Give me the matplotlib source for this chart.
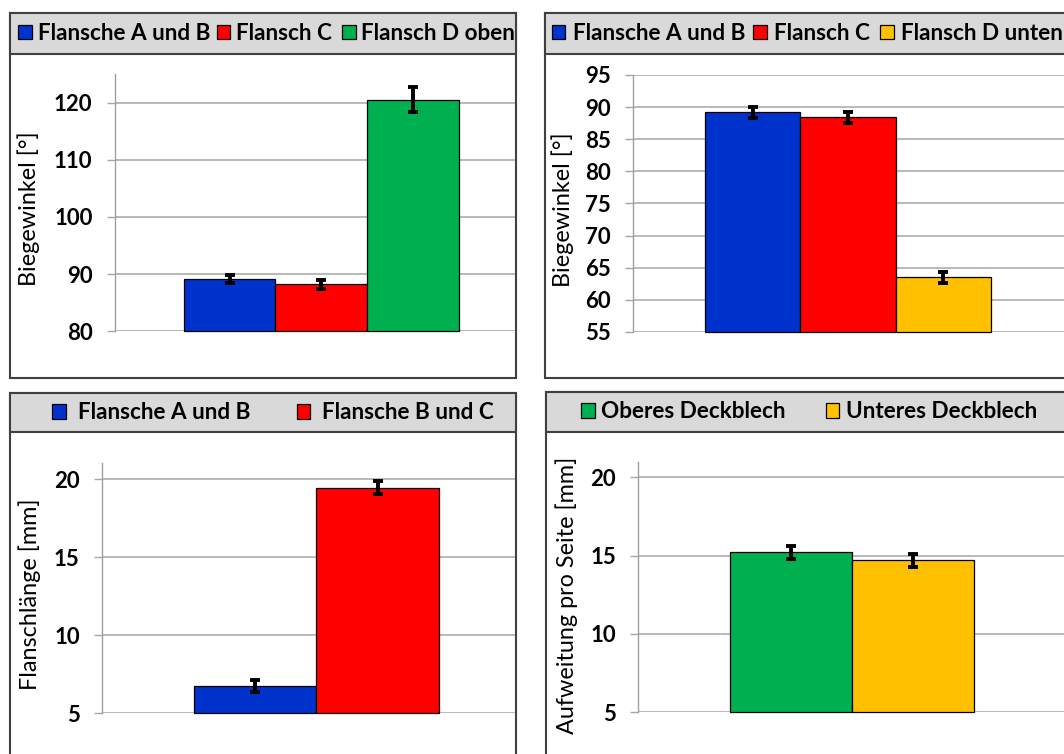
import matplotlib.pyplot as plt
from matplotlib.patches import Rectangle

plt.rcParams['font.family'] = ['Lato', 'DejaVu Sans']

# Daten der vier Diagramme
labels_oben = ["Flansche A und B", "Flansch C", "Flansch D oben"]
winkel_oben = [89.1, 88.2, 120.5]
fehler_oben = [0.7, 0.85, 2.2]

labels_unten = ["Flansche A und B", "Flansch C", "Flansch D unten"]
winkel_unten = [89.2, 88.4, 63.5]
fehler_unten = [0.85, 0.9, 0.9]

labels_laenge = ["Flansche A und B", "Flansche B und C"]
laenge = [6.75, 19.45]
fehler_laenge = [0.4, 0.42]

labels_aufw = ["Oberes Deckblech", "Unteres Deckblech"]
aufweitung = [15.2, 14.7]
fehler_aufw = [0.4, 0.4]

BLAU, ROT, GRUEN, GELB = "#0033cc", "#ff0000", "#00b050", "#ffc000"

W, H = 1064, 754
fig = plt.figure(figsize=(W / 100, H / 100), dpi=100)


def fig_rect(x0, y0, x1, y1):
    # Pixel (von oben) -> Figurkoordinaten
    return [x0 / W, 1 - y1 / H, (x1 - x0) / W, (y1 - y0) / H]


def rahmen(x0, y0, x1, y1, y_kopf):
    l, b, w, h = fig_rect(x0, y0, x1, y1)
    fig.add_artist(Rectangle((l, b), w, h, transform=fig.transFigure,
                             facecolor="white", edgecolor="#404040", lw=1.5, zorder=-2))
    l, b, w, h = fig_rect(x0, y0, x1, y_kopf)
    fig.add_artist(Rectangle((l, b), w, h, transform=fig.transFigure,
                             facecolor="#d9d9d9", edgecolor="#404040", lw=1.5, zorder=-1))


def diagramm(werte, fehler, farben, ylim, yticks, spine_x, oben, unten, rechts_voll, rechts_clip):
    ax = fig.add_axes(fig_rect(spine_x, oben, rechts_clip, unten))
    ax.set_facecolor("none")
    n = len(werte)
    breite = 1 / (n + 1.5)
    pos = [(i - (n - 1) / 2) * breite for i in range(n)]
    hoehen = [v - ylim[0] for v in werte]
    balken = ax.bar(pos, hoehen, breite, bottom=ylim[0], color=farben,
                    edgecolor="black", linewidth=0.9, clip_on=False, zorder=2)
    ax.errorbar(pos, werte, yerr=fehler, fmt="none", ecolor="black",
                elinewidth=2.8, capsize=3.8, capthick=2.8, zorder=3)
    ax.set_ylim(*ylim)
    ax.set_yticks(yticks)
    ax.set_xlim(-0.5, -0.5 + (rechts_clip - spine_x) / (rechts_voll - spine_x))
    ax.set_xticks([])
    ax.set_axisbelow(True)
    ax.grid(axis="y", color="#a6a6a6", linewidth=1.1)
    for s in ["top", "right", "bottom"]:
        ax.spines[s].set_visible(False)
    ax.spines["left"].set_color("#a0a0a0")
    ax.spines["left"].set_linewidth(1.0)
    ax.tick_params(axis="y", length=5.5, width=1.0, color="#a6a6a6", pad=10.5,
                   labelsize=16, labelcolor="black")
    for t in ax.get_yticklabels():
        t.set_fontweight("bold")
    return list(balken)


def kopf_legende(handles, texte, xs, y, textpad):
    for h, t, x in zip(handles, texte, xs):
        fig.legend([h], [t], loc="center left", bbox_to_anchor=(x / W, 1 - y / H),
                   frameon=False, borderpad=0, borderaxespad=0,
                   handlelength=0.6, handleheight=0.6, handletextpad=textpad,
                   prop=dict(weight="bold", size=16.2))


# Rahmen mit grauem Legendenkopf
rahmen(10, 12.7, 516, 378, 54)
rahmen(544.5, 12.7, 1075, 378, 54)
rahmen(10, 393.3, 516, 765, 432.3)
rahmen(545.7, 392.3, 1075, 765, 431.7)

# Oben links: Biegewinkel oben
h1 = diagramm(winkel_oben, fehler_oben, [BLAU, ROT, GRUEN], (80, 125),
              [80, 90, 100, 110, 120], 114.7, 74.1, 331.3, 528, 515)
kopf_legende(h1, labels_oben, [18.3, 216.7, 342], 33.3, 0.26)
fig.text(28.7 / W, 1 - 209 / H, "Biegewinkel [°]", rotation=90,
         ha="center", va="center", fontsize=16.8)

# Oben rechts: Biegewinkel unten
h2 = diagramm(winkel_unten, fehler_unten, [BLAU, ROT, GELB], (55, 95),
              [55, 60, 65, 70, 75, 80, 85, 90, 95], 633.3, 75, 332, 1062.7, 1064)
kopf_legende(h2, labels_unten, [551.7, 753.3, 880], 33.3, 0.34)
fig.text(563 / W, 1 - 209.5 / H, "Biegewinkel [°]", rotation=90,
         ha="center", va="center", fontsize=16.8)

# Unten links: Flanschlaenge
h3 = diagramm(laenge, fehler_laenge, [BLAU, ROT], (5, 21),
              [5, 10, 15, 20], 102, 463.4, 713.3, 530.7, 515)
kopf_legende(h3, labels_laenge, [52.3, 296.7], 412.8, 0.53)
fig.text(29.5 / W, 1 - 594 / H, "Flanschlänge [mm]", rotation=90,
         ha="center", va="center", fontsize=16.8)

# Unten rechts: Aufweitung
h4 = diagramm(aufweitung, fehler_aufw, [GRUEN, GELB], (5, 21),
              [5, 10, 15, 20], 638.3, 461.6, 712.3, 1066, 1064)
kopf_legende(h4, labels_aufw, [581, 825.7], 412, 0.31)
fig.text(567 / W, 1 - 595.5 / H, "Aufweitung pro Seite [mm]", rotation=90,
         ha="center", va="center", fontsize=16.8)

fig.savefig("out.png", dpi=100)
